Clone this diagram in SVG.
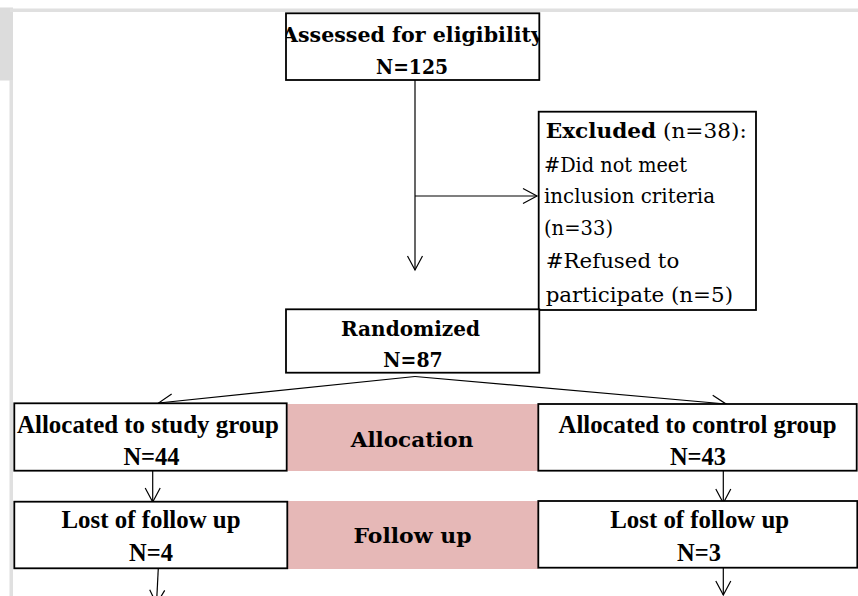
<svg xmlns="http://www.w3.org/2000/svg" width="858" height="596" viewBox="0 0 858 596">
<style>
.box{fill:#ffffff;stroke:#000000;stroke-width:1.8}
.band{fill:#e6b8b7}
.cam{font-family:"DejaVu Serif","Liberation Serif",serif;font-size:20.5px;fill:#000}
.camb{font-family:"DejaVu Serif","Liberation Serif",serif;font-weight:bold;font-size:20.5px;fill:#000}
.tnr{font-family:"Liberation Serif","Times New Roman",serif;font-weight:bold;font-size:24.5px;fill:#000}
.conn{fill:none;stroke:#000;stroke-width:1.2}
</style>
<defs>
<marker id="arr" markerUnits="userSpaceOnUse" markerWidth="30" markerHeight="30" viewBox="-20 -15 30 30" refX="0" refY="0" orient="auto" overflow="visible">
<path d="M-14,-7.5 L0,0 L-14,7.5" fill="none" stroke="#000" stroke-width="1.2"/>
</marker>
<clipPath id="clipA"><rect x="286" y="13" width="253" height="67"/></clipPath>
</defs>
<rect width="858" height="596" fill="#ffffff"/>
<g id="page-frame">
<rect x="0" y="7.5" width="13" height="73" fill="#dcdcdc"/>
<rect x="9.5" y="80" width="3.5" height="516" fill="#e0e0e0"/>
<rect x="10" y="8.5" width="848" height="3.5" fill="#e0e0e0"/>
</g>
<g id="connectors">
<line class="conn" x1="415" y1="80" x2="415" y2="270" marker-end="url(#arr)"/>
<line class="conn" x1="415" y1="196" x2="537" y2="196" marker-end="url(#arr)"/>
<line class="conn" x1="415" y1="376.5" x2="158.5" y2="403" marker-end="url(#arr)"/>
<line class="conn" x1="415" y1="376.5" x2="726" y2="404" marker-end="url(#arr)"/>
<line class="conn" x1="152.7" y1="471" x2="152.7" y2="502" marker-end="url(#arr)"/>
<line class="conn" x1="723.3" y1="471" x2="723.3" y2="503" marker-end="url(#arr)"/>
<line class="conn" x1="158.3" y1="568" x2="156.5" y2="604" marker-end="url(#arr)"/>
<line class="conn" x1="723.3" y1="568" x2="723.3" y2="595" marker-end="url(#arr)"/>
</g>
<g id="assessed">
<rect class="box" x="286" y="13.3" width="253.3" height="66.7"/>
<g clip-path="url(#clipA)">
<text class="camb" x="412.5" y="41.7" text-anchor="middle" textLength="261" lengthAdjust="spacingAndGlyphs">Assessed for eligibility</text>
</g>
<text class="camb" x="412" y="74" text-anchor="middle" textLength="72" lengthAdjust="spacingAndGlyphs">N=125</text>
</g>
<g id="excluded">
<rect class="box" x="538.7" y="111.7" width="217.3" height="198.3"/>
<text class="cam" x="545.7" y="138.3" textLength="201" lengthAdjust="spacingAndGlyphs"><tspan font-weight="bold">Excluded</tspan> (n=38):</text>
<text class="cam" x="544" y="171.7" textLength="143" lengthAdjust="spacingAndGlyphs">#Did not meet</text>
<text class="cam" x="544" y="203.3" textLength="171" lengthAdjust="spacingAndGlyphs">inclusion criteria</text>
<text class="cam" x="544" y="235" textLength="69" lengthAdjust="spacingAndGlyphs">(n=33)</text>
<text class="cam" x="545.7" y="268.3" textLength="133.6" lengthAdjust="spacingAndGlyphs">#Refused to</text>
<text class="cam" x="545.7" y="301.7" textLength="187.3" lengthAdjust="spacingAndGlyphs">participate (n=5)</text>
</g>
<g id="randomized">
<rect class="box" x="286" y="309.3" width="253.3" height="63.4"/>
<text class="camb" x="410.5" y="335.7" text-anchor="middle" textLength="139" lengthAdjust="spacingAndGlyphs">Randomized</text>
<text class="camb" x="413" y="366.7" text-anchor="middle" textLength="59.4" lengthAdjust="spacingAndGlyphs">N=87</text>
</g>
<g id="allocation-label">
<rect class="band" x="287.3" y="404" width="251" height="67"/>
<text class="camb" x="412" y="446.7" font-size="21.5" text-anchor="middle" textLength="122.6" lengthAdjust="spacingAndGlyphs">Allocation</text>
</g>
<g id="study-group">
<rect class="box" x="14.3" y="403.3" width="272.4" height="67.4"/>
<text class="tnr" x="148" y="433" text-anchor="middle" textLength="262" lengthAdjust="spacingAndGlyphs">Allocated to study group</text>
<text class="tnr" x="151.5" y="465" text-anchor="middle">N=44</text>
</g>
<g id="control-group">
<rect class="box" x="538.3" y="404" width="318.4" height="66.7"/>
<text class="tnr" x="697.5" y="433" text-anchor="middle" textLength="278" lengthAdjust="spacingAndGlyphs">Allocated to control group</text>
<text class="tnr" x="698" y="465" text-anchor="middle">N=43</text>
</g>
<g id="followup-label">
<rect class="band" x="287.3" y="501" width="251" height="68"/>
<text class="camb" x="412.5" y="543.3" font-size="21.5" text-anchor="middle" textLength="118" lengthAdjust="spacingAndGlyphs">Follow up</text>
</g>
<g id="study-lost">
<rect class="box" x="14.3" y="501.7" width="273" height="66.6"/>
<text class="tnr" x="151" y="528.3" text-anchor="middle" textLength="179" lengthAdjust="spacingAndGlyphs">Lost of follow up</text>
<text class="tnr" x="151" y="561" text-anchor="middle">N=4</text>
</g>
<g id="control-lost">
<rect class="box" x="538.3" y="501" width="319" height="66.7"/>
<text class="tnr" x="699.7" y="528.3" text-anchor="middle" textLength="179" lengthAdjust="spacingAndGlyphs">Lost of follow up</text>
<text class="tnr" x="699" y="561" text-anchor="middle">N=3</text>
</g>
</svg>
